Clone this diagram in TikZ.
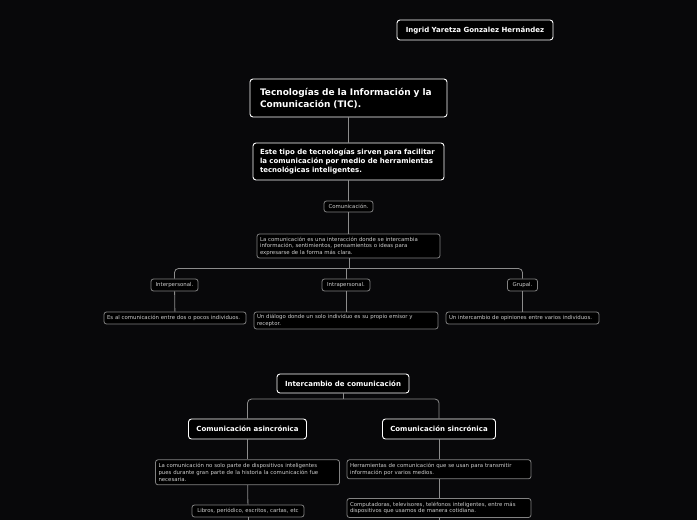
\documentclass[tikz,border=0pt]{standalone}
\usepackage{fontspec}
\setmainfont{DejaVu Sans}
\definecolor{bg}{RGB}{8,8,10}
\definecolor{ln}{RGB}{140,140,140}
\definecolor{sbd}{RGB}{130,130,130}
\definecolor{stx}{RGB}{205,205,205}
\begin{document}
\begin{tikzpicture}[x=1pt,y=-1pt,
  big/.style={draw=white, line width=0.9pt, rounded corners=3pt, fill=black, text=white,
    font=\bfseries\fontsize{9}{12}\selectfont, align=left, inner xsep=10pt, inner ysep=0pt},
  mid/.style={draw=white, line width=0.9pt, rounded corners=3pt, fill=black, text=white,
    font=\bfseries\fontsize{7}{8.6}\selectfont, inner xsep=7pt, inner ysep=0pt},
  sm/.style={draw=sbd, line width=0.8pt, rounded corners=2.5pt, fill=black, text=stx,
    font=\fontsize{5.4}{6.6}\selectfont, align=left, inner xsep=3pt, inner ysep=0pt},
  tag/.style={draw=sbd, line width=0.8pt, rounded corners=2.5pt, fill=black, text=stx,
    font=\fontsize{5.4}{6.6}\selectfont, align=center, inner sep=0pt},
  conn/.style={draw=ln, line width=0.8pt}]
\useasboundingbox (0,0) rectangle (697,520);
\fill[bg] (0,0) rectangle (697,520);

% top section
\node[mid, align=center, minimum width=156pt, minimum height=20pt] (author) at (475,30) {Ingrid Yaretza Gonzalez Hernández};
\node[big, text width=177pt, minimum height=38pt] (tic) at (348.5,98) {Tecnologías de la Información y la\\Comunicación (TIC).};
\node[mid, align=left, text width=177pt, minimum height=37pt] (desc) at (348.5,161.5) {Este tipo de tecnologías sirven para facilitar\\la comunicación por medio de herramientas\\tecnológicas inteligentes.};
\node[tag, minimum width=49pt, minimum height=11pt] (com) at (348.5,206.5) {Comunicación.};
\node[sm, text width=177pt, minimum height=24pt] (lacom) at (348.5,246) {La comunicación es una interacción donde se intercambia\\información, sentimientos, pensamientos o ideas para\\expresarse de la forma más clara.};
\node[tag, minimum width=47pt, minimum height=12pt] (inter) at (174.5,285) {Interpersonal.};
\node[tag, minimum width=48pt, minimum height=12pt] (intra) at (346,285) {Intrapersonal.};
\node[tag, minimum width=30pt, minimum height=12pt] (grupal) at (522.5,285) {Grupal.};
\node[sm, text width=136pt, minimum height=12pt] (es) at (175,318) {Es al comunicación entre dos o pocos individuos.};
\node[sm, text width=178pt, minimum height=17pt] (dial) at (346,320.5) {Un diálogo donde un solo individuo es su propio emisor y\\receptor.};
\node[sm, text width=147pt, minimum height=12pt] (grupo) at (522.5,318) {Un intercambio de opiniones entre varios individuos.};

\coordinate (b1) at (349,268.5);
\draw[conn] (tic) -- (desc);
\draw[conn] (desc) -- (com);
\draw[conn] (com) -- (lacom);
\draw[conn] (lacom.south -| b1) -- (b1);
\draw[conn, rounded corners=4pt] (inter.north) |- (b1) -| (grupal.north);
\draw[conn] (intra.north) -- (intra.north |- b1);
\draw[conn] (inter) -- (es);
\draw[conn] (intra) -- (dial);
\draw[conn] (grupal) -- (grupo);

% bottom section
\node[mid, align=center, minimum width=132pt, minimum height=19pt] (icom) at (343,383.5) {Intercambio de comunicación};
\node[mid, align=center, minimum width=118pt, minimum height=20pt] (asinc) at (247.5,429) {Comunicación asincrónica};
\node[mid, align=center, minimum width=113pt, minimum height=20pt] (sinc) at (439,429) {Comunicación sincrónica};
\node[sm, text width=178pt, minimum height=25pt] (nosolo) at (247.5,472.3) {La comunicación no solo parte de dispositivos inteligentes\\pues durante gran parte de la historia la comunicación fue\\necesaria.};
\node[sm, align=center, text width=106pt, minimum height=12pt] (libros) at (248,511) {Libros, periódico, escritos, cartas, etc};
\node[sm, text width=178pt, minimum height=19pt] (herr) at (439,469.3) {Herramientas de comunicación que se usan para transmitir\\información por varios medios.};
\node[sm, text width=178pt, minimum height=19pt] (comp) at (439,508) {Computadoras, televisores, teléfonos inteligentes, entre más\\dispositivos que usamos de manera cotidiana.};

\coordinate (b2) at (343,399);
\coordinate (e1) at (248,520);
\coordinate (e2) at (439,520);
\draw[conn] (icom.south) -- (b2);
\draw[conn, rounded corners=4pt] (asinc.north) |- (b2) -| (sinc.north);
\draw[conn] (asinc) -- (nosolo);
\draw[conn] (nosolo) -- (libros);
\draw[conn] (libros.south) -- (e1);
\draw[conn] (sinc) -- (herr);
\draw[conn] (herr) -- (comp);
\draw[conn] (comp.south) -- (e2);
\end{tikzpicture}
\end{document}
